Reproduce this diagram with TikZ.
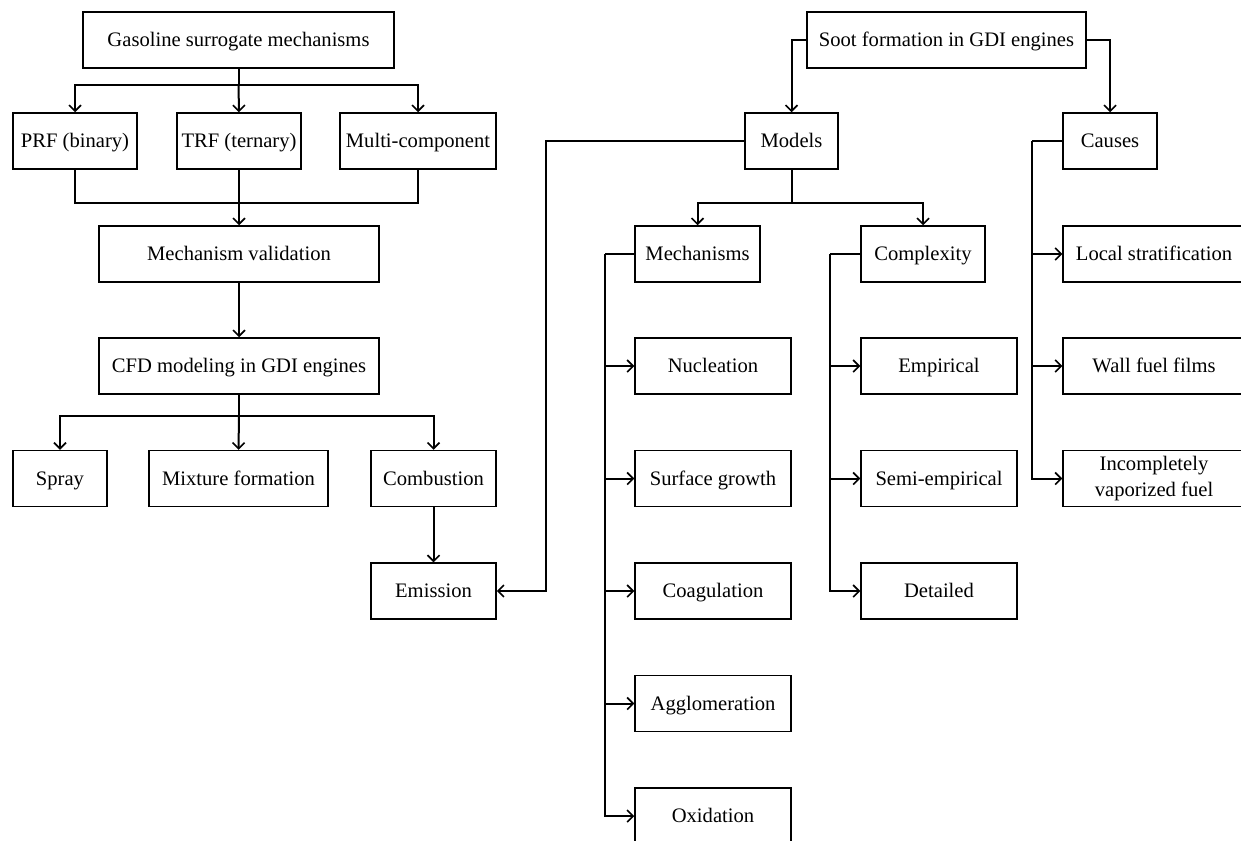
\documentclass[tikz,border=0pt]{standalone}
\usepackage{fontspec}
\setmainfont{Liberation Serif}
\usetikzlibrary{arrows.meta}
\begin{document}
\begin{tikzpicture}[x=1pt,y=-1pt,
  box/.style={draw=black,line width=1.5pt,rectangle,inner sep=0pt,minimum height=56pt,
    font=\fontsize{20.6}{26}\selectfont,text height=13.6pt,text depth=0pt},
  box2/.style={draw=black,line width=1.5pt,rectangle,inner sep=0pt,minimum height=56pt,
    font=\fontsize{20.6}{26}\selectfont,align=center},
  ln/.style={line width=2pt,line join=miter},
  arr/.style={ln,-{Straight Barb[length=6pt,width=12pt,line width=1.6pt]}}]
\useasboundingbox (0,0) rectangle (1241,840);
% left tree
\node[box,minimum width=311pt] (gas) at (238.5,40) {Gasoline surrogate mechanisms};
\node[box,minimum width=124pt] (prf) at (75,141) {PRF (binary)};
\node[box,minimum width=124pt] (trf) at (239,141) {TRF (ternary)};
\node[box,minimum width=156pt] (multi) at (418,141) {Multi-component};
\node[box,minimum width=280pt] (mv) at (239,254) {Mechanism validation};
\node[box,minimum width=280pt] (cfd) at (239,366) {CFD modeling in GDI engines};
\node[box,minimum width=94pt] (spray) at (60,478.5) {Spray};
\node[box,minimum width=179pt] (mix) at (238.5,478.5) {Mixture formation};
\node[box,minimum width=125pt] (comb) at (433.5,478.5) {Combustion};
\node[box,minimum width=125pt] (emis) at (433.5,591) {Emission};
% right tree
\node[box,minimum width=279pt] (soot) at (946.5,40) {Soot formation in GDI engines};
\node[box,minimum width=93pt] (models) at (791.5,141) {Models};
\node[box,minimum width=94pt] (causes) at (1110,141) {Causes};
\node[box,minimum width=125pt] (mech) at (697.5,254) {Mechanisms};
\node[box,minimum width=124pt] (compl) at (923,254) {Complexity};
\node[box,minimum width=156pt] (nucl) at (713,366) {Nucleation};
\node[box,minimum width=156pt] (surf) at (713,478.5) {Surface growth};
\node[box,minimum width=156pt] (coag) at (713,591) {Coagulation};
\node[box,minimum width=156pt] (aggl) at (713,703.5) {Agglomeration};
\node[box,minimum width=156pt] (oxid) at (713,816) {Oxidation};
\node[box,minimum width=156pt] (empir) at (939,366) {Empirical};
\node[box,minimum width=156pt] (semi) at (939,478.5) {Semi-empirical};
\node[box,minimum width=156pt] (detail) at (939,591) {Detailed};
\node[box,minimum width=182pt] (local) at (1154,254) {Local stratification};
\node[box,minimum width=182pt] (wall) at (1154,366) {Wall fuel films};
\node[box2,minimum width=182pt] (incomp) at (1154,478.5) {Incompletely\\vaporized fuel};
% coordinates
\coordinate (gb) at (238.5,85);
\coordinate (mb) at (239,203);
\coordinate (cb) at (239,416);
\coordinate (sl) at (791.5,40);
\coordinate (sr) at (1110,40);
\coordinate (ml) at (546,141);
\coordinate (mbr) at (791.5,203);
\coordinate (mechl) at (605,254);
\coordinate (compll) at (830,254);
\coordinate (causl) at (1032,141);
% left connectors
\draw[ln] (gas.south) -- (gb);
\draw[arr] (gb) -| (prf.north);
\draw[arr] (gb) -- (trf.north);
\draw[arr] (gb) -| (multi.north);
\draw[ln] (prf.south) |- (mb);
\draw[ln] (multi.south) |- (mb);
\draw[arr] (trf.south) -- (mv.north);
\draw[arr] (mv.south) -- (cfd.north);
\draw[ln] (cfd.south) -- (cb);
\draw[arr] (cb) -| (spray.north);
\draw[arr] (cb) -- (mix.north);
\draw[arr] (cb) -| (comb.north);
\draw[arr] (comb.south) -- (emis.north);
% right connectors
\draw[arr] (soot.west) -- (sl) -- (models.north);
\draw[arr] (soot.east) -- (sr) -- (causes.north);
\draw[arr] (models.west) -- (ml) |- (emis.east);
\draw[ln] (models.south) -- (mbr);
\draw[arr] (mbr) -| (mech.north);
\draw[arr] (mbr) -| (compl.north);
\draw[ln] (mech.west) -- (mechl);
\draw[arr] (mechl) |- (nucl.west);
\draw[arr] (mechl) |- (surf.west);
\draw[arr] (mechl) |- (coag.west);
\draw[arr] (mechl) |- (aggl.west);
\draw[arr] (mechl) |- (oxid.west);
\draw[ln] (compl.west) -- (compll);
\draw[arr] (compll) |- (empir.west);
\draw[arr] (compll) |- (semi.west);
\draw[arr] (compll) |- (detail.west);
\draw[ln] (causes.west) -- (causl);
\draw[arr] (causl) |- (local.west);
\draw[arr] (causl) |- (wall.west);
\draw[arr] (causl) |- (incomp.west);
\end{tikzpicture}
\end{document}
